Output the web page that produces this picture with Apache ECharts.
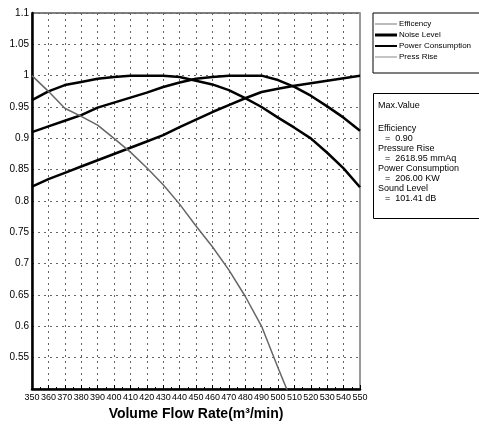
<!DOCTYPE html>
<html>
<head>
<meta charset="utf-8">
<script src="https://cdn.jsdelivr.net/npm/echarts@6/dist/echarts.min.js"></script>
<style>
  html, body { margin: 0; padding: 0; background: #fff; }
  #chart { width: 479px; height: 427px; }
</style>
</head>
<body>
<div id="chart"></div>
<script>
// Flow rate samples (m³/min)
const flowRates = [350, 360, 370, 380, 390, 400, 410, 420, 430, 440, 450,
                   460, 470, 480, 490, 500, 510, 520, 530, 540, 550];

// Normalised performance curves
const noiseLevel = [0.961, 0.975, 0.985, 0.99, 0.995, 0.998, 1.0, 1.0, 1.0, 0.998, 0.992,
                    0.986, 0.977, 0.964, 0.95, 0.933, 0.917, 0.9, 0.877, 0.852, 0.822];
const efficiency = [0.91, 0.919, 0.928, 0.937, 0.949, 0.957, 0.965, 0.973, 0.982, 0.989, 0.995,
                    0.998, 1.0, 1.0, 1.0, 0.993, 0.982, 0.968, 0.951, 0.933, 0.912];
const powerConsumption = [0.823, 0.835, 0.845, 0.855, 0.865, 0.875, 0.885, 0.895, 0.905, 0.918, 0.93,
                          0.942, 0.953, 0.964, 0.974, 0.979, 0.984, 0.988, 0.992, 0.996, 1.0];
const pressRise = [1.0, 0.975, 0.948, 0.935, 0.921, 0.9, 0.878, 0.853, 0.826, 0.795, 0.76,
                   0.727, 0.69, 0.648, 0.6, 0.534, 0.47];

// Maximum values summary
const maxLabels = ['Efficiency', 'Pressure Rise', 'Power Consumption', 'Sound Level'];
const maxValues = ['0.90', '2618.95 mmAq', '206.00 KW', '101.41 dB'];

const pair = (ys) => ys.map((y, i) => [flowRates[i], y]);

const sans = '"Liberation Sans", Arial, sans-serif';
const gridLine = { show: true, lineStyle: { color: '#666', width: 1, type: [2, 4] } };

const boxTexts = [{
  type: 'text', left: 378, top: 101,
  style: { text: 'Max.Value', fill: '#000', font: '9px ' + sans }
}];
maxLabels.forEach((lab, i) => {
  boxTexts.push({ type: 'text', left: 378, top: 124 + i * 20,
    style: { text: lab, fill: '#000', font: '9px ' + sans } });
  boxTexts.push({ type: 'text', left: 385, top: 134 + i * 20,
    style: { text: '=  ' + maxValues[i], fill: '#000', font: '9px ' + sans } });
});

const chart = echarts.init(document.getElementById('chart'), null, { renderer: 'canvas' });
chart.setOption({
  animation: false,
  backgroundColor: '#fff',
  grid: { left: 32, right: 119, top: 13, bottom: 38, show: true, borderColor: '#000', borderWidth: 1 },
  legend: {
    orient: 'vertical', left: 373, top: 13,
    padding: [7, 12, 12, 2], itemGap: 3, itemWidth: 22, itemHeight: 9,
    borderColor: '#000', borderWidth: 1, width: 110,
    textStyle: { fontSize: 8, fontFamily: sans, color: '#000', padding: [0, 0, 0, -3] },
    data: [
      { name: 'Efficency', icon: 'path://M0,4 L22,4 L22,5 L0,5 Z', itemStyle: { color: '#777' } },
      { name: 'Noise Level', icon: 'path://M0,3 L22,3 L22,6 L0,6 Z', itemStyle: { color: '#000' } },
      { name: 'Power Consumption', icon: 'path://M0,3.5 L22,3.5 L22,5.5 L0,5.5 Z', itemStyle: { color: '#000' } },
      { name: 'Press Rise', icon: 'path://M0,4 L22,4 L22,5 L0,5 Z', itemStyle: { color: '#888' } }
    ]
  },
  xAxis: [{
    type: 'value', min: 350, max: 550, interval: 10,
    name: 'Volume Flow Rate(m³/min)', nameLocation: 'middle', nameGap: 15,
    nameTextStyle: { fontSize: 14, fontWeight: 'bold', fontFamily: sans, color: '#000' },
    axisLine: { show: true, onZero: false, lineStyle: { color: '#000', width: 2.5 } },
    axisTick: { show: true, inside: true, length: 4, lineStyle: { color: '#000' } },
    minorTick: { show: true, splitNumber: 2, length: 2, lineStyle: { color: '#000' } },
    axisLabel: { interval: 0, showMinLabel: true, showMaxLabel: true, hideOverlap: false,
                 margin: 4, fontSize: 9, fontFamily: sans, color: '#000' },
    splitLine: gridLine
  }],
  yAxis: [{
    type: 'value', min: 0.5, max: 1.1, interval: 0.05,
    axisLine: { show: true, onZero: false, lineStyle: { color: '#000', width: 2.5 } },
    axisTick: { show: false },
    axisLabel: { showMinLabel: false, margin: 3, fontSize: 10, fontFamily: sans, color: '#000' },
    splitLine: gridLine
  }, {
    type: 'value', min: 0.5, max: 1.1, position: 'right',
    axisLine: { show: true, onZero: false, lineStyle: { color: '#999', width: 2 } },
    axisTick: { show: false }, axisLabel: { show: false }, splitLine: { show: false }
  }],
  series: [
    { name: 'Efficency', type: 'line', data: pair(efficiency), symbol: 'none', clip: true,
      lineStyle: { color: '#000', width: 2.5 }, itemStyle: { color: '#777' } },
    { name: 'Noise Level', type: 'line', data: pair(noiseLevel), symbol: 'none', clip: true,
      lineStyle: { color: '#000', width: 2.5 }, itemStyle: { color: '#000' } },
    { name: 'Power Consumption', type: 'line', data: pair(powerConsumption), symbol: 'none', clip: true,
      lineStyle: { color: '#000', width: 2.5 }, itemStyle: { color: '#000' } },
    { name: 'Press Rise', type: 'line', data: pair(pressRise), symbol: 'none', clip: true,
      lineStyle: { color: '#666', width: 1.5 }, itemStyle: { color: '#888' } }
  ],
  graphic: [
    { type: 'rect', left: 373, top: 93, shape: { width: 110, height: 125 },
      style: { fill: '#fff', stroke: '#000', lineWidth: 1 } },
    ...boxTexts
  ]
});
</script>
</body>
</html>
